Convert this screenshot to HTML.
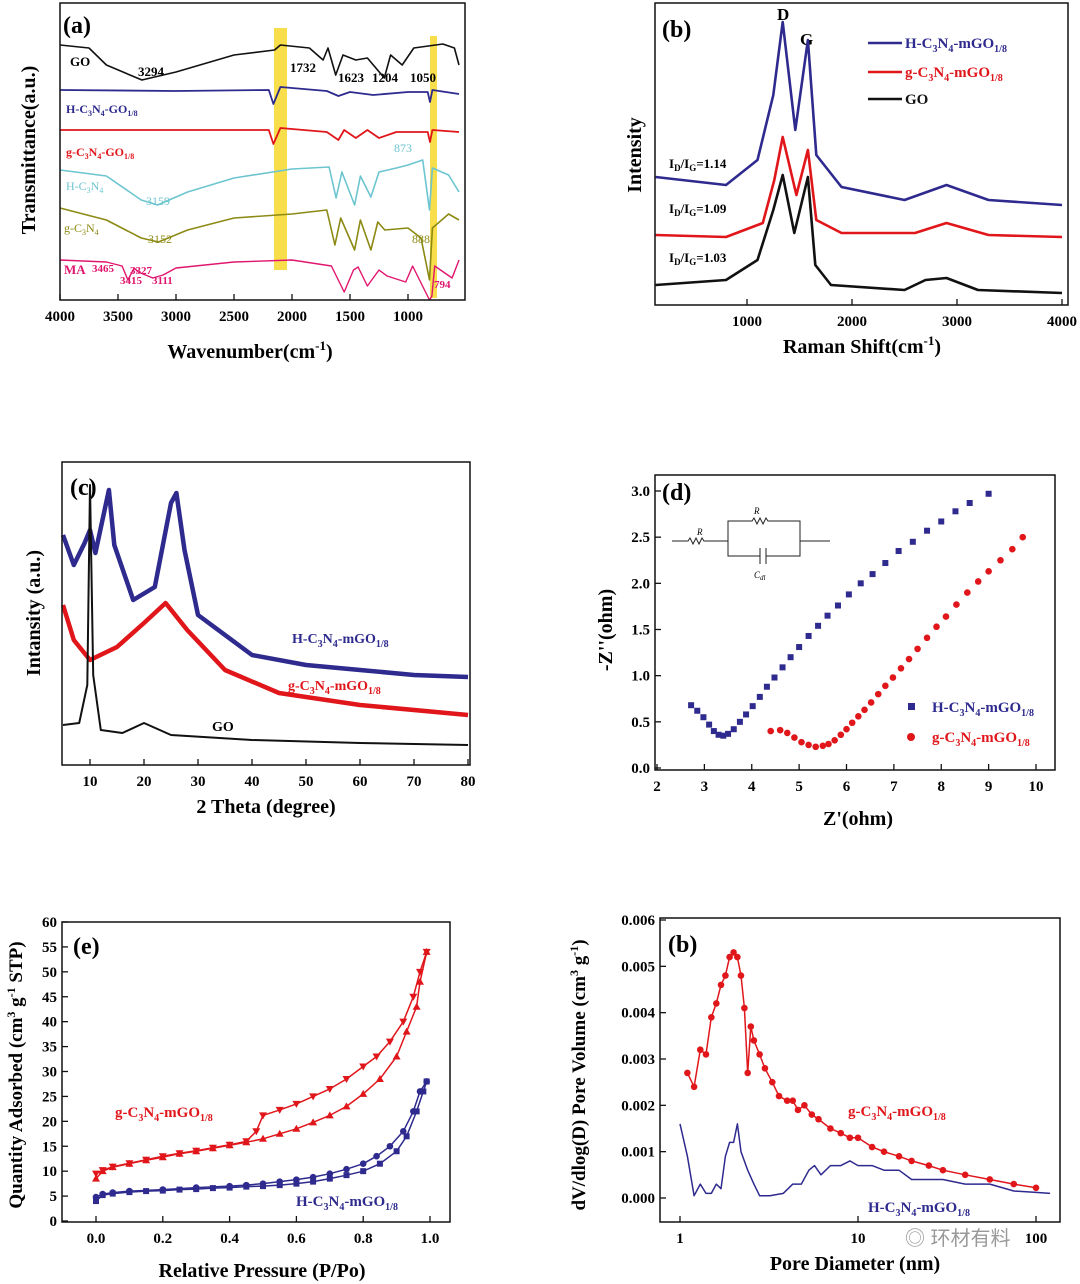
<!DOCTYPE html>
<html><head><meta charset="utf-8"><style>
html,body{margin:0;padding:0;background:#fff;}
svg{display:block;font-family:"Liberation Serif",serif;}
.t{font-weight:bold;}
</style></head><body>
<svg id="fig" width="1080" height="1284" viewBox="0 0 1080 1284" xmlns="http://www.w3.org/2000/svg">
<rect width="1080" height="1284" fill="#fff"/>
<g id="pa">
<rect x="274" y="28" width="13" height="242" fill="#f7de4a"/>
<rect x="430" y="36" width="7" height="262" fill="#f7de4a"/>
<text x="63" y="33" class="t" font-size="24">(a)</text>
<g font-size="13" class="t">
<text x="70" y="66">GO</text><text x="138" y="76">3294</text><text x="290" y="72">1732</text>
<text x="338" y="82">1623</text><text x="372" y="82">1204</text><text x="410" y="82">1050</text>
<text x="66" y="113" fill="#2e2a8e" font-size="12">H-C<tspan font-size="8" dy="3">3</tspan><tspan dy="-3">N</tspan><tspan font-size="8" dy="3">4</tspan><tspan dy="-3">-GO</tspan><tspan font-size="8" dy="3">1/8</tspan></text>
<text x="66" y="156" fill="#e0161b" font-size="12">g-C<tspan font-size="8" dy="3">3</tspan><tspan dy="-3">N</tspan><tspan font-size="8" dy="3">4</tspan><tspan dy="-3">-GO</tspan><tspan font-size="8" dy="3">1/8</tspan></text>
<text x="66" y="190" fill="#6cc5cf" font-size="12" font-weight="normal">H-C<tspan font-size="8" dy="3">3</tspan><tspan dy="-3">N</tspan><tspan font-size="8" dy="3">4</tspan></text>
<text x="146" y="205" fill="#6cc5cf" font-weight="normal" font-size="12">3159</text>
<text x="394" y="152" fill="#6cc5cf" font-weight="normal" font-size="12">873</text>
<text x="64" y="232" fill="#8c8a14" font-size="12" font-weight="normal">g-C<tspan font-size="8" dy="3">3</tspan><tspan dy="-3">N</tspan><tspan font-size="8" dy="3">4</tspan></text>
<text x="148" y="243" fill="#8c8a14" font-weight="normal" font-size="12">3152</text>
<text x="412" y="243" fill="#8c8a14" font-weight="normal" font-size="12">888</text>
<text x="64" y="274" fill="#e0166e" font-size="13">MA</text>
<g fill="#e0166e" font-size="11"><text x="92" y="272">3465</text><text x="120" y="284">3415</text><text x="130" y="274">3327</text><text x="152" y="284">3111</text><text x="434" y="288">794</text></g>
</g>
<text x="250" y="358" text-anchor="middle" font-size="20" class="t">Wavenumber(cm<tspan font-size="13" dy="-8">-1</tspan><tspan dy="8">)</tspan></text>
<text transform="translate(35,150) rotate(-90)" text-anchor="middle" font-size="20" class="t">Transmittance(a.u.)</text>
</g>
<g id="pb">
<text x="662" y="37" class="t" font-size="24">(b)</text>
<text x="777" y="20" class="t" font-size="17">D</text><text x="800" y="45" class="t" font-size="17">G</text>
<g font-size="15" class="t">
<line x1="868" y1="43" x2="902" y2="43" stroke="#2e2a8e" stroke-width="2.5"/>
<text x="905" y="48" fill="#2e2a8e">H-C<tspan font-size="10" dy="4">3</tspan><tspan dy="-4">N</tspan><tspan font-size="10" dy="4">4</tspan><tspan dy="-4">-mGO</tspan><tspan font-size="10" dy="4">1/8</tspan></text>
<line x1="868" y1="72" x2="902" y2="72" stroke="#e0161b" stroke-width="2.5"/>
<text x="905" y="77" fill="#e0161b">g-C<tspan font-size="10" dy="4">3</tspan><tspan dy="-4">N</tspan><tspan font-size="10" dy="4">4</tspan><tspan dy="-4">-mGO</tspan><tspan font-size="10" dy="4">1/8</tspan></text>
<line x1="868" y1="99" x2="902" y2="99" stroke="#111" stroke-width="2.5"/>
<text x="905" y="104" fill="#111">GO</text>
</g>
<g font-size="13" class="t">
<text x="669" y="168">I<tspan font-size="9" dy="3">D</tspan><tspan dy="-3">/I</tspan><tspan font-size="9" dy="3">G</tspan><tspan dy="-3">=1.14</tspan></text>
<text x="669" y="213">I<tspan font-size="9" dy="3">D</tspan><tspan dy="-3">/I</tspan><tspan font-size="9" dy="3">G</tspan><tspan dy="-3">=1.09</tspan></text>
<text x="669" y="262">I<tspan font-size="9" dy="3">D</tspan><tspan dy="-3">/I</tspan><tspan font-size="9" dy="3">G</tspan><tspan dy="-3">=1.03</tspan></text>
</g>
<text x="862" y="353" text-anchor="middle" font-size="20" class="t">Raman Shift(cm<tspan font-size="13" dy="-8">-1</tspan><tspan dy="8">)</tspan></text>
<text transform="translate(641,155) rotate(-90)" text-anchor="middle" font-size="20" class="t">Intensity</text>
</g>
<g id="pc">
<text x="70" y="495" class="t" font-size="24">(c)</text>
<text x="292" y="643" fill="#2e2a8e" font-size="14" class="t">H-C<tspan font-size="10" dy="4">3</tspan><tspan dy="-4">N</tspan><tspan font-size="10" dy="4">4</tspan><tspan dy="-4">-mGO</tspan><tspan font-size="10" dy="4">1/8</tspan></text>
<text x="288" y="690" fill="#e0161b" font-size="14" class="t">g-C<tspan font-size="10" dy="4">3</tspan><tspan dy="-4">N</tspan><tspan font-size="10" dy="4">4</tspan><tspan dy="-4">-mGO</tspan><tspan font-size="10" dy="4">1/8</tspan></text>
<text x="212" y="731" font-size="14" class="t">GO</text>
<text x="266" y="813" text-anchor="middle" font-size="20" class="t">2 Theta (degree)</text>
<text transform="translate(40,613) rotate(-90)" text-anchor="middle" font-size="20" class="t">Intansity (a.u.)</text>
</g>
<g id="pd">
<text x="662" y="500" class="t" font-size="24">(d)</text>
<g stroke="#222" stroke-width="1" fill="none">
<path d="M672 541 H688 l2 -3 l3 6 l3 -6 l3 6 l3 -6 l2 3 H728 V521 H752 l2 -3 l3 6 l3 -6 l3 6 l3 -6 l2 3 H800 V541 H830 M728 541 V556 H760 M766 556 H800 V541 M760 548 V564 M766 548 V564"/>
</g>
<g font-size="9" font-style="italic"><text x="697" y="535">R</text><text x="754" y="514">R</text><text x="754" y="578">C<tspan font-size="7" dy="2">dl</tspan></text></g>
<g font-size="15" class="t">
<rect x="908" y="703" width="7" height="7" fill="#2e2a8e"/>
<text x="932" y="712" fill="#2e2a8e">H-C<tspan font-size="10" dy="4">3</tspan><tspan dy="-4">N</tspan><tspan font-size="10" dy="4">4</tspan><tspan dy="-4">-mGO</tspan><tspan font-size="10" dy="4">1/8</tspan></text>
<circle cx="911" cy="737" r="4" fill="#e0161b"/>
<text x="932" y="742" fill="#e0161b">g-C<tspan font-size="10" dy="4">3</tspan><tspan dy="-4">N</tspan><tspan font-size="10" dy="4">4</tspan><tspan dy="-4">-mGO</tspan><tspan font-size="10" dy="4">1/8</tspan></text>
</g>
<text x="858" y="825" text-anchor="middle" font-size="20" class="t">Z'(ohm)</text>
<text transform="translate(612,630) rotate(-90)" text-anchor="middle" font-size="20" class="t">-Z''(ohm)</text>
</g>
<g id="pe">
<text x="73" y="954" class="t" font-size="24">(e)</text>
<text x="115" y="1117" fill="#e0161b" font-size="15" class="t">g-C<tspan font-size="10" dy="4">3</tspan><tspan dy="-4">N</tspan><tspan font-size="10" dy="4">4</tspan><tspan dy="-4">-mGO</tspan><tspan font-size="10" dy="4">1/8</tspan></text>
<text x="296" y="1206" fill="#2e2a8e" font-size="15" class="t">H-C<tspan font-size="10" dy="4">3</tspan><tspan dy="-4">N</tspan><tspan font-size="10" dy="4">4</tspan><tspan dy="-4">-mGO</tspan><tspan font-size="10" dy="4">1/8</tspan></text>
<text x="262" y="1277" text-anchor="middle" font-size="20" class="t">Relative Pressure (P/Po)</text>
<text transform="translate(22,1075) rotate(-90)" text-anchor="middle" font-size="19" class="t">Quantity Adsorbed (cm<tspan font-size="12" dy="-7">3</tspan><tspan dy="7"> g</tspan><tspan font-size="12" dy="-7">-1</tspan><tspan dy="7"> STP)</tspan></text>
</g>
<g id="pf">
<text x="668" y="952" class="t" font-size="24">(b)</text>
<text x="848" y="1116" fill="#e0161b" font-size="15" class="t">g-C<tspan font-size="10" dy="4">3</tspan><tspan dy="-4">N</tspan><tspan font-size="10" dy="4">4</tspan><tspan dy="-4">-mGO</tspan><tspan font-size="10" dy="4">1/8</tspan></text>
<text x="868" y="1212" fill="#2e2a8e" font-size="15" class="t">H-C<tspan font-size="10" dy="4">3</tspan><tspan dy="-4">N</tspan><tspan font-size="10" dy="4">4</tspan><tspan dy="-4">-mGO</tspan><tspan font-size="10" dy="4">1/8</tspan></text>
<text x="855" y="1270" text-anchor="middle" font-size="20" class="t">Pore Diameter (nm)</text>
<text transform="translate(585,1075) rotate(-90)" text-anchor="middle" font-size="19" class="t">dV/dlog(D) Pore Volume (cm<tspan font-size="12" dy="-7">3</tspan><tspan dy="7"> g</tspan><tspan font-size="12" dy="-7">-1</tspan><tspan dy="7">)</tspan></text>
<text x="905" y="1245" fill="#999" font-size="20" font-family="Liberation Sans, Noto Sans CJK SC, sans-serif">◎ 环材有料</text>
</g>
</svg>
<script>
const aGO=[[4000,255],[3750,252],[3600,235],[3294,220],[3000,228],[2500,245],[2150,250],[2100,255],[1850,252],[1732,240],[1690,252],[1623,225],[1560,245],[1450,240],[1350,242],[1204,222],[1150,245],[1050,235],[950,252],[700,256],[600,252],[560,235]];
const aHGO=[[4000,210],[3000,209],[2200,210],[2160,196],[2100,213],[1700,209],[1600,204],[1500,208],[1300,205],[1000,208],[830,208],[810,198],[790,210],[560,206]];
const aGGO=[[4000,170],[3000,170],[2200,170],[2160,156],[2100,172],[1700,168],[1600,160],[1550,170],[1450,162],[1350,170],[1250,162],[1100,168],[830,168],[810,158],[790,170],[560,168]];
const aHC=[[4000,130],[3600,124],[3300,100],[3159,95],[2900,108],[2500,122],[2000,131],[1680,133],[1620,102],[1570,128],[1460,95],[1410,124],[1320,103],[1250,128],[1100,132],[1000,135],[873,140],[815,90],[790,132],[650,125],[560,108]];
const aGC=[[4000,92],[3600,80],[3300,62],[3152,58],[2900,70],[2500,82],[2000,86],[1700,90],[1630,55],[1580,82],[1460,50],[1410,80],[1320,50],[1260,78],[1200,70],[1000,72],[888,62],[815,20],[790,72],[650,86],[560,80]];
const aMA=[[4000,40],[3600,38],[3465,34],[3415,20],[3360,32],[3327,28],[3200,22],[3111,25],[3000,32],[2500,38],[2000,40],[1660,34],[1550,8],[1470,30],[1430,33],[1350,14],[1250,30],[1180,24],[1020,18],[960,34],[815,0],[794,4],[770,34],[620,22],[560,40]];
const aTicks=[4000,3500,3000,2500,2000,1500,1000];
const bGO=[[130,20],[800,25],[1100,45],[1250,95],[1340,130],[1450,72],[1580,128],[1650,40],[1800,20],[2500,15],[2700,25],[2900,27],[3200,15],[4000,12]];
const bG=[[130,70],[800,68],[1150,82],[1260,125],[1340,168],[1470,110],[1580,155],[1660,85],[1900,72],[2600,72],[2900,82],[3300,70],[4000,68]];
const bH=[[130,128],[800,120],[1100,145],[1250,210],[1340,283],[1460,175],[1580,265],[1660,150],[1900,118],[2500,105],[2900,120],[3300,105],[4000,100]];
const bTicks=[1000,2000,3000,4000];
const cGO=[[5,40],[8,42],[9.5,80],[10,280],[10.6,90],[12,35],[16,32],[20,42],[25,30],[40,25],[60,22],[80,20]];
const cG=[[5,160],[7,125],[10,105],[15,118],[20,142],[24,162],[28,135],[35,95],[45,72],[60,60],[80,50]];
const cH=[[5,230],[7,200],[9,222],[10,235],[11,212],[13.5,275],[14.5,220],[18,165],[22,178],[25,262],[26,272],[27.5,215],[30,150],[40,110],[50,100],[60,95],[70,90],[80,88]];
const cTicks=[10,20,30,40,50,60,70,80];
const dHx=[2.72,2.85,2.98,3.1,3.2,3.3,3.4,3.5,3.62,3.75,3.88,4.02,4.17,4.32,4.48,4.65,4.82,5.0,5.2,5.4,5.6,5.82,6.05,6.3,6.55,6.82,7.1,7.4,7.7,8.0,8.3,8.6,9.0];
const dHy=[0.68,0.62,0.55,0.47,0.4,0.36,0.35,0.37,0.42,0.5,0.58,0.67,0.77,0.88,0.98,1.09,1.2,1.31,1.43,1.54,1.65,1.76,1.88,2.0,2.1,2.22,2.35,2.45,2.57,2.67,2.78,2.87,2.97];
const dGx=[4.4,4.6,4.75,4.9,5.05,5.2,5.35,5.5,5.62,5.75,5.88,6.0,6.12,6.25,6.38,6.52,6.67,6.82,6.98,7.15,7.32,7.5,7.7,7.9,8.1,8.32,8.55,8.78,9.0,9.25,9.5,9.72];
const dGy=[0.4,0.41,0.38,0.33,0.28,0.25,0.23,0.24,0.26,0.3,0.36,0.42,0.49,0.56,0.63,0.71,0.8,0.89,0.98,1.08,1.18,1.29,1.41,1.53,1.64,1.77,1.9,2.02,2.13,2.25,2.37,2.5];
const dXTicks=[2,3,4,5,6,7,8,9,10];
const dYTicks=[0,0.5,1,1.5,2,2.5,3];
const eGads=[[0,8.5],[0.02,10],[0.05,10.8],[0.1,11.5],[0.15,12.2],[0.2,12.8],[0.25,13.5],[0.3,14],[0.35,14.6],[0.4,15.2],[0.45,15.8],[0.5,16.5],[0.55,17.5],[0.6,18.5],[0.65,19.8],[0.7,21.2],[0.75,23],[0.8,25.5],[0.85,28.5],[0.9,33],[0.93,38],[0.96,43],[0.97,48],[0.99,54]];
const eGdes=[[0.99,54],[0.97,50],[0.95,45],[0.92,40],[0.88,36],[0.84,33],[0.8,31],[0.75,28.5],[0.7,26.5],[0.65,25],[0.6,23.5],[0.55,22.3],[0.5,21.2],[0.48,18],[0.45,16],[0.4,15.3],[0.35,14.7],[0.3,14.1],[0.25,13.6],[0.2,13],[0.15,12.3],[0.1,11.6],[0.05,10.9],[0.02,10.2],[0,9.5]];
const eHads=[[0,4],[0.02,5.2],[0.05,5.5],[0.1,5.8],[0.15,6],[0.2,6.1],[0.25,6.3],[0.3,6.4],[0.35,6.6],[0.4,6.7],[0.45,6.9],[0.5,7],[0.55,7.2],[0.6,7.5],[0.65,7.9],[0.7,8.5],[0.75,9.2],[0.8,10],[0.85,11.5],[0.9,14],[0.93,17],[0.96,22],[0.98,26],[0.99,28]];
const eHdes=[[0.99,28],[0.97,26],[0.95,22],[0.92,18],[0.88,15],[0.84,13],[0.8,11.5],[0.75,10.4],[0.7,9.5],[0.65,8.8],[0.6,8.3],[0.55,7.9],[0.5,7.5],[0.45,7.2],[0.4,7],[0.3,6.7],[0.2,6.3],[0.1,6],[0.05,5.7],[0.02,5.4],[0,4.8]];
const eXTicks=[0,0.2,0.4,0.6,0.8,1.0];
const eYTicks=[0,5,10,15,20,25,30,35,40,45,50,55,60];
const fG=[[1.1,0.0027],[1.2,0.0024],[1.3,0.0032],[1.4,0.0031],[1.5,0.0039],[1.6,0.0042],[1.7,0.0046],[1.8,0.0048],[1.9,0.0052],[2.0,0.0053],[2.1,0.0052],[2.2,0.0048],[2.3,0.0041],[2.4,0.0027],[2.5,0.0037],[2.6,0.0034],[2.8,0.0031],[3.0,0.0028],[3.3,0.0025],[3.6,0.0022],[4.0,0.0021],[4.3,0.0021],[4.6,0.0019],[5.0,0.002],[5.5,0.0018],[6,0.0017],[7,0.0015],[8,0.0014],[9,0.0013],[10,0.0013],[12,0.0011],[14,0.001],[17,0.0009],[20,0.0008],[25,0.0007],[30,0.0006],[40,0.0005],[55,0.0004],[75,0.0003],[100,0.00022]];
const fH=[[1.0,0.0016],[1.1,0.0009],[1.2,0.00005],[1.3,0.0003],[1.4,0.0001],[1.5,0.0001],[1.6,0.0003],[1.7,0.0002],[1.8,0.0009],[1.9,0.0012],[2.0,0.0012],[2.1,0.0016],[2.2,0.001],[2.4,0.0006],[2.6,0.0003],[2.8,0.00005],[3.2,0.00005],[3.8,0.0001],[4.3,0.0003],[4.8,0.0003],[5.3,0.0006],[5.7,0.0007],[6.2,0.0005],[7,0.0007],[8,0.0007],[9,0.0008],[10,0.0007],[12,0.0007],[14,0.0006],[17,0.0006],[20,0.0004],[25,0.0004],[30,0.0004],[40,0.0003],[55,0.0003],[75,0.00015],[100,0.00012],[120,0.0001]];
const fXTicks=[1,10,100];
const fXLabels=["1","10","100"];
const fYTicks=[0,0.001,0.002,0.003,0.004,0.005,0.006];

const NS="http://www.w3.org/2000/svg";
function lin(d0,d1,p0,p1){return v=>p0+(v-d0)*(p1-p0)/(d1-d0);}
function logs(d0,d1,p0,p1){return v=>p0+(Math.log10(v)-Math.log10(d0))*(p1-p0)/(Math.log10(d1)-Math.log10(d0));}
function el(parent,tag,attrs){const e=document.createElementNS(NS,tag);for(const k in attrs)e.setAttribute(k,attrs[k]);parent.appendChild(e);return e;}
function frame(g,x,y,w,h){const r=el(g,'rect',{x:x,y:y,width:w,height:h,fill:'none',stroke:'#111','stroke-width':1.5});

}
function curve(g,pts,sx,sy,color,w,name){const p=el(g,'polyline',{points:pts.map(d=>sx(d[0]).toFixed(1)+','+sy(d[1]).toFixed(1)).join(' '),fill:'none',stroke:color,'stroke-width':w,'stroke-linejoin':'round'});

return p;}
function xticks(g,ticks,sx,yb,labels,fs,len){ticks.forEach((t,i)=>{el(g,'line',{x1:sx(t),x2:sx(t),y1:yb,y2:yb-len,stroke:'#111','stroke-width':1.3});
if(labels){const tx=el(g,'text',{x:sx(t),y:yb+fs+6,'text-anchor':'middle','font-size':fs,'font-weight':'bold'});tx.textContent=labels[i];

}});}
function yticks(g,ticks,sy,xl,labels,fs,len){ticks.forEach((t,i)=>{el(g,'line',{x1:xl,x2:xl+len,y1:sy(t),y2:sy(t),stroke:'#111','stroke-width':1.3});
if(labels){const tx=el(g,'text',{x:xl-5,y:sy(t)+5,'text-anchor':'end','font-size':fs,'font-weight':'bold'});tx.textContent=labels[i];

}});}
function marker(g,x,y,shape,color,s){let m;
if(shape==='sq')m=el(g,'rect',{x:x-s,y:y-s,width:2*s,height:2*s,fill:color});
else if(shape==='ci')m=el(g,'circle',{cx:x,cy:y,r:s,fill:color});
else if(shape==='up')m=el(g,'polygon',{points:`${x},${y-s-1} ${x-s-1},${y+s} ${x+s+1},${y+s}`,fill:color});
else m=el(g,'polygon',{points:`${x},${y+s+1} ${x-s-1},${y-s} ${x+s+1},${y-s}`,fill:color});

}

{const g=document.getElementById('pa');const sx=lin(4000,500,60,466);const sy=lin(0,300,300,0);
curve(g,aGO,sx,sy,'#111',1.6,'series-go');curve(g,aHGO,sx,sy,'#2e2a8e',1.8,'series-h-c3n4-go');curve(g,aGGO,sx,sy,'#e0161b',1.8,'series-g-c3n4-go');
curve(g,aHC,sx,sy,'#6cc5cf',1.6,'series-h-c3n4');curve(g,aGC,sx,sy,'#8c8a14',1.6,'series-g-c3n4');curve(g,aMA,sx,sy,'#e0166e',1.4,'series-ma');
frame(g,60,3,405,297);xticks(g,aTicks,sx,300,aTicks.map(String),15,6);}
{const g=document.getElementById('pb');const sx=lin(1000,4000,747,1062);const sy=lin(0,305,305,0);
curve(g,bGO,sx,sy,'#111',2.6,'series-go');curve(g,bG,sx,sy,'#e0161b',2.6,'series-g-c3n4-mgo');curve(g,bH,sx,sy,'#2e2a8e',2.6,'series-h-c3n4-mgo');
frame(g,655,3,413,302);xticks(g,bTicks,sx,305,bTicks.map(String),15,6);}
{const g=document.getElementById('pc');const sx=lin(10,80,90,468);const sy=lin(0,303,765,462);
curve(g,cH,sx,sy,'#2e2a8e',4.5,'series-h-c3n4-mgo');curve(g,cG,sx,sy,'#e0161b',4.5,'series-g-c3n4-mgo');curve(g,cGO,sx,sy,'#111',2,'series-go');
frame(g,62,462,408,303);xticks(g,cTicks,sx,765,cTicks.map(String),15,6);}
{const g=document.getElementById('pd');const sx=lin(2,10,657,1036);const sy=lin(0,3,768,491);
dHx.forEach((x,i)=>marker(g,sx(x),sy(dHy[i]),'sq','#2e2a8e',3));
dGx.forEach((x,i)=>marker(g,sx(x),sy(dGy[i]),'ci','#e0161b',3.3));
frame(g,655,475,400,295);xticks(g,dXTicks,sx,770,dXTicks.map(String),15,6);
yticks(g,dYTicks,sy,655,dYTicks.map(v=>v.toFixed(1)),15,6);}
{const g=document.getElementById('pe');const sx=lin(0,1,96,430);const sy=lin(0,60,1221,922);
curve(g,eGads,sx,sy,'#e0161b',1.5,'series-g-adsorption');curve(g,eGdes,sx,sy,'#e0161b',1.5,'series-g-desorption');
curve(g,eHads,sx,sy,'#2e2a8e',1.5,'series-h-adsorption');curve(g,eHdes,sx,sy,'#2e2a8e',1.5,'series-h-desorption');
eGads.forEach(d=>marker(g,sx(d[0]),sy(d[1]),'up','#e0161b',3));eGdes.forEach(d=>marker(g,sx(d[0]),sy(d[1]),'dn','#e0161b',3));
eHads.forEach(d=>marker(g,sx(d[0]),sy(d[1]),'sq','#2e2a8e',3));eHdes.forEach(d=>marker(g,sx(d[0]),sy(d[1]),'ci','#2e2a8e',3.3));
frame(g,62,922,388,300);xticks(g,eXTicks,sx,1222,eXTicks.map(v=>v.toFixed(1)),15,6);
yticks(g,eYTicks,sy,62,eYTicks.map(String),15,6);}
{const g=document.getElementById('pf');const sx=logs(1,100,680,1036);const sy=lin(0,0.006,1198,920);
curve(g,fG,sx,sy,'#e0161b',1.5,'series-g-c3n4-mgo');curve(g,fH,sx,sy,'#2e2a8e',1.5,'series-h-c3n4-mgo');
fG.forEach(d=>marker(g,sx(d[0]),sy(d[1]),'ci','#e0161b',3.3));
frame(g,660,918,400,304);xticks(g,fXTicks,sx,1222,fXLabels,15,6);
yticks(g,fYTicks,sy,660,fYTicks.map(v=>v.toFixed(3)),15,6);}
</script>
</body></html>
